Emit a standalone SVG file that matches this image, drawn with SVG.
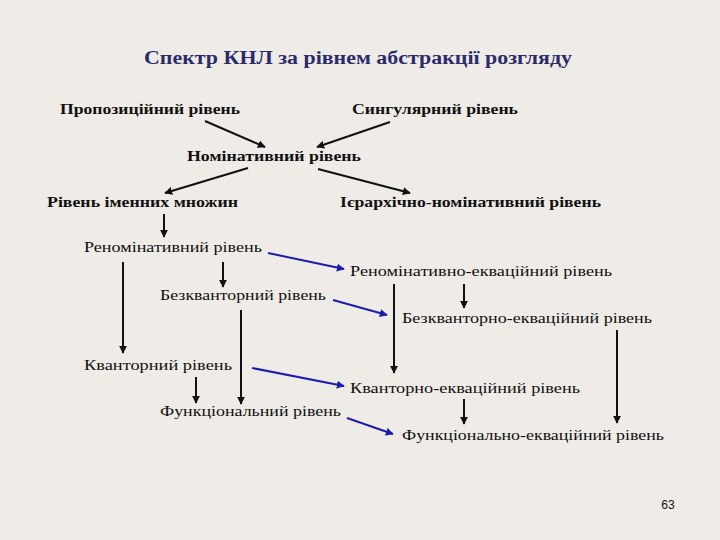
<svg xmlns="http://www.w3.org/2000/svg" width="720" height="540" viewBox="0 0 720 540">
<style>
.t{font-family:"Liberation Serif","Times New Roman",serif;font-size:15px;fill:#111}
.b{font-weight:bold}
.title{font-family:"Liberation Serif","Times New Roman",serif;font-size:18px;font-weight:bold;fill:#2b2b6b}
.k{stroke:#111;stroke-width:2;fill:none}
.bl{stroke:#1c1cb0;stroke-width:2;fill:none}
</style>
<defs>
<marker id="ak" viewBox="0 0 10 10" refX="9" refY="5" markerWidth="4" markerHeight="4" orient="auto" markerUnits="strokeWidth"><path d="M0,0L10,5L0,10z" fill="#111"/></marker>
<marker id="ab" viewBox="0 0 10 10" refX="9" refY="5" markerWidth="4" markerHeight="4" orient="auto" markerUnits="strokeWidth"><path d="M0,0L10,5L0,10z" fill="#1c1cb0"/></marker>
</defs>
<rect width="720" height="540" fill="#efebe7"/>
<text class="title" x="358" y="64" text-anchor="middle" textLength="428" lengthAdjust="spacingAndGlyphs">Спектр КНЛ за рівнем абстракції розгляду</text>
<g id="n1"><text class="t b" x="60" y="114" textLength="180" lengthAdjust="spacingAndGlyphs">Пропозиційний рівень</text></g>
<g id="n2"><text class="t b" x="352" y="114" textLength="166" lengthAdjust="spacingAndGlyphs">Сингулярний рівень</text></g>
<g id="n3"><text class="t b" x="187" y="161" textLength="174" lengthAdjust="spacingAndGlyphs">Номінативний рівень</text></g>
<g id="n4"><text class="t b" x="47" y="207" textLength="191" lengthAdjust="spacingAndGlyphs">Рівень іменних множин</text></g>
<g id="n5"><text class="t b" x="340" y="207" textLength="261" lengthAdjust="spacingAndGlyphs">Ієрархічно-номінативний рівень</text></g>
<g id="n6"><text class="t" x="84" y="252" textLength="178" lengthAdjust="spacingAndGlyphs">Реномінативний рівень</text></g>
<g id="n7"><text class="t" x="350" y="276" textLength="262" lengthAdjust="spacingAndGlyphs">Реномінативно-еквацiйний рівень</text></g>
<g id="n8"><text class="t" x="160" y="300" textLength="166" lengthAdjust="spacingAndGlyphs">Безкванторний рівень</text></g>
<g id="n9"><text class="t" x="402" y="323" textLength="250" lengthAdjust="spacingAndGlyphs">Безкванторно-еквацiйний рівень</text></g>
<g id="n10"><text class="t" x="84" y="370" textLength="148" lengthAdjust="spacingAndGlyphs">Кванторний рівень</text></g>
<g id="n11"><text class="t" x="350" y="393" textLength="230" lengthAdjust="spacingAndGlyphs">Кванторно-еквацiйний рівень</text></g>
<g id="n12"><text class="t" x="160" y="416" textLength="181" lengthAdjust="spacingAndGlyphs">Функціональний рівень</text></g>
<g id="n13"><text class="t" x="402" y="440" textLength="262" lengthAdjust="spacingAndGlyphs">Функціонально-еквацiйний рівень</text></g>
<g id="connectors">
<line class="k" x1="205" y1="121" x2="265" y2="147" marker-end="url(#ak)"/>
<line class="k" x1="390" y1="122" x2="317" y2="147" marker-end="url(#ak)"/>
<line class="k" x1="248" y1="168" x2="165" y2="193" marker-end="url(#ak)"/>
<line class="k" x1="318" y1="169" x2="410" y2="193" marker-end="url(#ak)"/>
<line class="k" x1="164" y1="214" x2="164" y2="237" marker-end="url(#ak)"/>
<line class="k" x1="123" y1="262" x2="123" y2="353" marker-end="url(#ak)"/>
<line class="k" x1="223" y1="262" x2="223" y2="287" marker-end="url(#ak)"/>
<line class="k" x1="241" y1="310" x2="241" y2="404" marker-end="url(#ak)"/>
<line class="k" x1="196" y1="377" x2="196" y2="403" marker-end="url(#ak)"/>
<line class="k" x1="394" y1="284" x2="394" y2="373" marker-end="url(#ak)"/>
<line class="k" x1="464" y1="284" x2="464" y2="308" marker-end="url(#ak)"/>
<line class="k" x1="617" y1="330" x2="617" y2="423" marker-end="url(#ak)"/>
<line class="k" x1="464" y1="399" x2="464" y2="424" marker-end="url(#ak)"/>
<line class="bl" x1="268" y1="253" x2="344" y2="269" marker-end="url(#ab)"/>
<line class="bl" x1="333" y1="300" x2="387" y2="315" marker-end="url(#ab)"/>
<line class="bl" x1="252" y1="368" x2="344" y2="386" marker-end="url(#ab)"/>
<line class="bl" x1="347" y1="418" x2="393" y2="434" marker-end="url(#ab)"/>
</g>
<text x="668" y="509" text-anchor="middle" font-family="Liberation Sans, Arial, sans-serif" font-size="12" fill="#111">63</text>
</svg>
